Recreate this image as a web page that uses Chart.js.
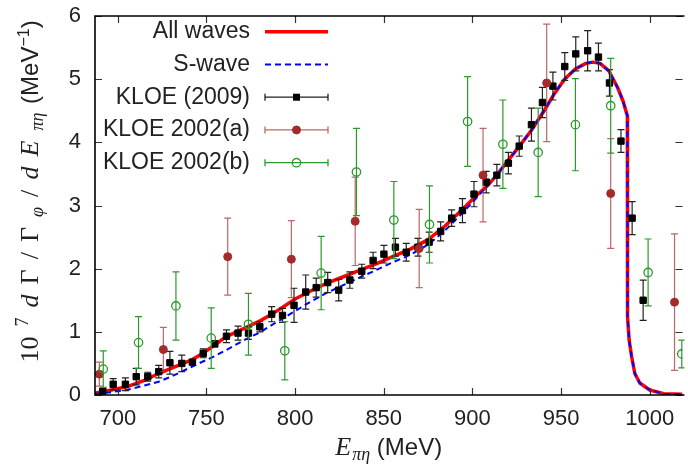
<!DOCTYPE html>
<html>
<head>
<meta charset="utf-8">
<script src="https://cdn.jsdelivr.net/npm/chart.js@4.4.1/dist/chart.umd.min.js"></script>
<style>
html, body { margin: 0; padding: 0; background: #fff; }
#wrap { width: 688px; height: 467px; }
</style>
</head>
<body>
<div id="wrap"><canvas id="spectrum" width="688" height="467"></canvas></div>
<script>
// pi-eta invariant mass spectrum
const xTickValues = [700, 750, 800, 850, 900, 950, 1000];
const yTickValues = [0, 1, 2, 3, 4, 5, 6];

// model curves (same energy grid for both)
const curveE = [687.2, 695, 705, 715, 723, 730, 736, 742, 748, 755, 761, 770, 780, 787, 793, 800, 809, 818, 828, 837,
  846, 855, 865, 875, 884, 893, 902, 908, 914, 920, 926, 933, 940, 946, 952, 958, 964, 968, 972, 977,
  982, 985, 987.4, 987.5, 988.4, 989.8, 991.6, 994.4, 1000, 1008, 1018.5];
const allWaves = [0.03, 0.07, 0.13, 0.23, 0.34, 0.42, 0.49, 0.56, 0.66, 0.80, 0.92, 1.04, 1.17, 1.28, 1.39, 1.52, 1.65, 1.77, 1.88, 1.98,
  2.08, 2.19, 2.31, 2.46, 2.66, 2.90, 3.15, 3.30, 3.49, 3.71, 3.92, 4.18, 4.48, 4.76, 5.00, 5.16, 5.25, 5.27, 5.25, 5.13,
  4.86, 4.65, 4.42, 1.24, 0.87, 0.61, 0.34, 0.19, 0.08, 0.02, 0.01];
const sWave = [0.02, 0.04, 0.08, 0.15, 0.21, 0.29, 0.37, 0.45, 0.53, 0.62, 0.71, 0.85, 0.99, 1.11, 1.21, 1.33, 1.48, 1.62, 1.75, 1.87,
  1.98, 2.10, 2.22, 2.38, 2.59, 2.84, 3.11, 3.30, 3.49, 3.71, 3.92, 4.18, 4.48, 4.76, 5.00, 5.16, 5.25, 5.27, 5.25, 5.13,
  4.86, 4.65, 4.42, 1.24, 0.87, 0.61, 0.34, 0.19, 0.08, 0.02, 0.01];

// KLOE (2009)
const kloe09E = [691.5, 697.4, 704.3, 710.4, 716.9, 723.1, 729.4, 736.1, 742.1, 748.2, 754.7, 761.3, 767.8, 773.7, 780.1, 786.8,
  792.9, 799.4, 806.0, 811.9, 818.4, 824.6, 830.9, 837.6, 844.0, 850.1, 856.6, 862.7, 869.3, 875.6, 882.1, 888.3,
  894.4, 900.9, 907.8, 913.8, 920.3, 926.4, 933.3, 939.5, 945.4, 952.1, 958.3, 965.0, 971.1, 977.3, 983.8, 990.1, 996.3];
const kloe09Y = [0.06, 0.17, 0.17, 0.29, 0.29, 0.37, 0.51, 0.50, 0.52, 0.66, 0.81, 0.93, 0.98, 0.98, 1.08, 1.28,
  1.26, 1.42, 1.63, 1.70, 1.78, 1.66, 1.82, 1.96, 2.13, 2.23, 2.34, 2.26, 2.34, 2.42, 2.59, 2.80,
  2.92, 3.18, 3.37, 3.48, 3.67, 3.94, 4.28, 4.63, 4.89, 5.20, 5.40, 5.45, 5.35, 4.94, 4.02, 2.80, 1.50];
const kloe09Err = [0.04, 0.09, 0.10, 0.13, 0.07, 0.10, 0.18, 0.13, 0.04, 0.07, 0.05, 0.10, 0.11, 0.10, 0.08, 0.12,
  0.11, 0.27, 0.27, 0.15, 0.16, 0.17, 0.13, 0.11, 0.13, 0.14, 0.14, 0.14, 0.14, 0.16, 0.15, 0.13,
  0.19, 0.20, 0.17, 0.17, 0.17, 0.16, 0.26, 0.24, 0.22, 0.22, 0.27, 0.32, 0.22, 0.21, 0.18, 0.26, 0.32];

// KLOE 2002(a)
const kloe02aE = [689.6, 725.7, 762.0, 797.9, 833.9, 870.0, 906.0, 941.9, 978.0, 1014.0];
const kloe02aY = [0.33, 0.72, 2.19, 2.15, 2.75, 2.32, 3.48, 4.94, 3.19, 1.47];
const kloe02aErr = [0.19, 0.35, 0.61, 0.61, 0.70, 0.62, 0.74, 0.93, 0.87, 1.08];

// KLOE 2002(b)
const kloe02bE = [691.8, 711.7, 732.8, 752.7, 773.7, 794.2, 814.7, 834.6, 855.7, 875.8, 897.3, 917.2, 937.1, 958.1, 978.0, 999.1, 1018.1];
const kloe02bY = [0.41, 0.83, 1.41, 0.90, 1.12, 0.70, 1.93, 3.53, 2.77, 2.70, 4.33, 3.97, 3.84, 4.28, 4.58, 1.94, 0.65];
const kloe02bErr = [0.29, 0.41, 0.54, 0.48, 0.49, 0.46, 0.58, 0.69, 0.61, 0.61, 0.71, 0.70, 0.70, 0.73, 0.75, 0.53, 0.22];

function pairs(xs, ys) {
  return xs.map(function (x, i) { return { x: x, y: ys[i] }; });
}

function drawErrorBars(chart, ds) {
  var ctx = chart.ctx, a = chart.chartArea;
  var xs = chart.scales.x, ys = chart.scales.y;
  ctx.save();
  ctx.beginPath();
  ctx.rect(a.left, a.top, a.right - a.left + 2, a.bottom - a.top);
  ctx.clip();
  ctx.strokeStyle = ds.errorColor;
  ctx.lineWidth = 1.2;
  ctx.beginPath();
  ds.data.forEach(function (p, i) {
    var e = ds.errors[i];
    var px = xs.getPixelForValue(p.x);
    var top = ys.getPixelForValue(p.y + e);
    var bot = ys.getPixelForValue(p.y - e);
    ctx.moveTo(px, top); ctx.lineTo(px, bot);
    ctx.moveTo(px - 3.5, top); ctx.lineTo(px + 3.5, top);
    ctx.moveTo(px - 3.5, bot); ctx.lineTo(px + 3.5, bot);
  });
  ctx.stroke();
  ctx.restore();
}

function drawFrame(chart) {
  var ctx = chart.ctx, a = chart.chartArea;
  var xs = chart.scales.x, ys = chart.scales.y;
  ctx.save();
  ctx.strokeStyle = '#333';
  ctx.lineWidth = 1.2;
  ctx.beginPath();
  xTickValues.forEach(function (v) {
    var px = Math.round(xs.getPixelForValue(v)) + 0.5;
    ctx.moveTo(px, a.bottom); ctx.lineTo(px, a.bottom - 7);
    ctx.moveTo(px, a.top); ctx.lineTo(px, a.top + 7);
  });
  yTickValues.forEach(function (v) {
    var py = Math.round(ys.getPixelForValue(v)) + 0.5;
    ctx.moveTo(a.left, py); ctx.lineTo(a.left + 7, py);
    ctx.moveTo(a.right, py); ctx.lineTo(a.right - 7, py);
  });
  ctx.stroke();
  ctx.strokeStyle = '#000';
  ctx.lineWidth = 1.6;
  ctx.beginPath();
  ctx.moveTo(a.right + 2, a.top);
  ctx.lineTo(a.left, a.top);
  ctx.lineTo(a.left, a.bottom);
  ctx.lineTo(a.right + 2, a.bottom);
  ctx.stroke();
  ctx.restore();
}

function drawLegend(chart) {
  var ctx = chart.ctx;
  ctx.save();
  chart.data.datasets.forEach(function (ds, i) {
    var y = 31.7 + i * 32.75;
    ctx.font = '23px "Liberation Sans"';
    ctx.fillStyle = '#222';
    ctx.textAlign = 'right';
    ctx.textBaseline = 'alphabetic';
    ctx.fillText(ds.label, 250, y + 6.5);
    ctx.setLineDash([]);
    if (ds.errors) {
      ctx.strokeStyle = ds.errorColor;
      ctx.lineWidth = 1.3;
      ctx.beginPath();
      ctx.moveTo(265, y); ctx.lineTo(328, y);
      ctx.moveTo(265, y - 3.5); ctx.lineTo(265, y + 3.5);
      ctx.moveTo(328, y - 3.5); ctx.lineTo(328, y + 3.5);
      ctx.stroke();
      var cx = 296.5;
      if (ds.pointStyle === 'rect') {
        ctx.fillStyle = ds.backgroundColor;
        ctx.fillRect(cx - 3.5, y - 3.5, 7, 7);
      } else {
        ctx.beginPath();
        ctx.arc(cx, y, ds.pointRadius, 0, Math.PI * 2);
        ctx.fillStyle = ds.backgroundColor;
        ctx.fill();
        ctx.strokeStyle = ds.borderColor;
        ctx.lineWidth = ds.borderWidth;
        ctx.stroke();
      }
    } else {
      ctx.strokeStyle = ds.borderColor;
      ctx.lineWidth = ds.borderWidth;
      ctx.setLineDash(ds.borderDash || []);
      ctx.beginPath();
      ctx.moveTo(265, y); ctx.lineTo(328, y);
      ctx.stroke();
    }
  });
  ctx.restore();
}

// rich text pieces {t, font, dy, gap}; math pieces are spread to a target length
function spread(ctx, parts, target) {
  var w = 0;
  parts.forEach(function (p) { ctx.font = p.font; w += ctx.measureText(p.t).width; });
  var gap = Math.max(0, (target - w) / (parts.length - 1));
  return parts.map(function (p, i) {
    return { t: p.t, font: p.font, dy: p.dy || 0, gap: i < parts.length - 1 ? gap : 0 };
  });
}
function richWidth(ctx, g) {
  var w = 0;
  g.forEach(function (p) { ctx.font = p.font; w += ctx.measureText(p.t).width + (p.gap || 0); });
  return w;
}
function drawRich(ctx, g, x0) {
  var x = x0;
  g.forEach(function (p) {
    ctx.font = p.font;
    ctx.fillText(p.t, x, p.dy || 0);
    x += ctx.measureText(p.t).width + (p.gap || 0);
  });
}

function drawAxisTitles(chart) {
  var ctx = chart.ctx, a = chart.chartArea;
  var serif = '"Liberation Serif"', sans = '"Liberation Sans"';
  ctx.save();
  ctx.fillStyle = '#222';
  ctx.textAlign = 'left';
  ctx.textBaseline = 'alphabetic';

  // y title
  var yMath = spread(ctx, [
    { t: '10', font: '26px ' + serif },
    { t: '7', font: '18px ' + serif, dy: -10 },
    { t: 'd', font: 'italic 26px ' + serif },
    { t: 'Γ', font: '26px ' + serif },
    { t: '/', font: '26px ' + serif },
    { t: 'Γ', font: '26px ' + serif },
    { t: 'φ', font: 'italic 18px ' + serif, dy: 5 },
    { t: '/', font: '26px ' + serif },
    { t: 'd', font: 'italic 26px ' + serif },
    { t: 'E', font: 'italic 26px ' + serif },
    { t: 'πη', font: 'italic 18px ' + serif, dy: 5 }
  ], 250);
  yMath[yMath.length - 1].gap = 2;
  var yParts = yMath.concat([
    { t: ' (MeV', font: '24px ' + sans },
    { t: '−1', font: '16px ' + sans, dy: -9 },
    { t: ')', font: '24px ' + sans }
  ]);
  var wy = richWidth(ctx, yParts);
  ctx.save();
  ctx.translate(38, 191.5);
  ctx.rotate(-Math.PI / 2);
  drawRich(ctx, yParts, -wy / 2);
  ctx.restore();

  // x title
  var xParts = [
    { t: 'E', font: 'italic 26px ' + serif, gap: 1 },
    { t: 'πη', font: 'italic 18px ' + serif, dy: 5 },
    { t: ' (MeV)', font: '24px ' + sans }
  ];
  var wx = richWidth(ctx, xParts);
  ctx.save();
  ctx.translate((a.left + a.right) / 2, 455);
  drawRich(ctx, xParts, -wx / 2);
  ctx.restore();
  ctx.restore();
}

const gnuplotLook = {
  id: 'gnuplotLook',
  beforeDatasetDraw: function (chart, args) {
    var ds = chart.data.datasets[args.index];
    if (ds.errors) drawErrorBars(chart, ds);
  },
  afterDatasetsDraw: function (chart) { drawFrame(chart); },
  afterDraw: function (chart) { drawLegend(chart); drawAxisTitles(chart); }
};

Chart.defaults.font.family = '"Liberation Sans"';

var canvas = document.getElementById('spectrum');
new Chart(canvas.getContext('2d'), {
  type: 'scatter',
  data: {
    datasets: [{
      label: 'All waves',
      data: pairs(curveE, allWaves),
      showLine: true,
      borderColor: '#ff0000',
      backgroundColor: '#ff0000',
      borderWidth: 3.5,
      borderJoinStyle: 'round',
      pointRadius: 0,
      order: 5
    }, {
      label: 'S-wave',
      data: pairs(curveE, sWave),
      showLine: true,
      borderColor: '#0000ff',
      backgroundColor: '#0000ff',
      borderWidth: 2,
      borderDash: [6, 4],
      pointRadius: 0,
      order: 4
    }, {
      label: 'KLOE (2009)',
      data: pairs(kloe09E, kloe09Y),
      errors: kloe09Err,
      errorColor: '#222',
      pointStyle: 'rect',
      pointRadius: 4.5,
      backgroundColor: '#000',
      borderColor: '#000',
      borderWidth: 1,
      order: 3
    }, {
      label: 'KLOE 2002(a)',
      data: pairs(kloe02aE, kloe02aY),
      errors: kloe02aErr,
      errorColor: 'rgba(170, 50, 50, 0.75)',
      pointStyle: 'circle',
      pointRadius: 4,
      backgroundColor: '#a52a2a',
      borderColor: '#a52a2a',
      borderWidth: 1,
      order: 2
    }, {
      label: 'KLOE 2002(b)',
      data: pairs(kloe02bE, kloe02bY),
      errors: kloe02bErr,
      errorColor: '#2a9a2a',
      pointStyle: 'circle',
      pointRadius: 4.2,
      backgroundColor: 'rgba(0, 0, 0, 0)',
      borderColor: '#2a9a2a',
      borderWidth: 1.3,
      order: 1
    }]
  },
  options: {
    responsive: false,
    animation: false,
    devicePixelRatio: 1,
    layout: { padding: { top: 16, right: 0, left: 0, bottom: 0 } },
    plugins: { legend: { display: false }, tooltip: { enabled: false } },
    scales: {
      x: {
        type: 'linear',
        min: 687.15,
        max: 1018.5,
        afterBuildTicks: function (scale) { scale.ticks = xTickValues.map(function (v) { return { value: v }; }); },
        afterFit: function (scale) { scale.height = 72; scale.paddingLeft = 0; scale.paddingRight = 0; },
        grid: { display: false, drawTicks: false },
        border: { display: false },
        ticks: { color: '#222', padding: 11, font: { size: 22 }, maxRotation: 0, callback: function (v) { return String(v); } }
      },
      y: {
        type: 'linear',
        min: 0,
        max: 6,
        afterBuildTicks: function (scale) { scale.ticks = yTickValues.map(function (v) { return { value: v }; }); },
        afterFit: function (scale) { scale.width = 95; scale.paddingTop = 0; scale.paddingBottom = 0; },
        grid: { display: false, drawTicks: false },
        border: { display: false },
        ticks: { color: '#222', padding: 14, font: { size: 22 }, callback: function (v) { return String(v); } }
      }
    }
  },
  plugins: [gnuplotLook]
});
</script>
</body>
</html>
